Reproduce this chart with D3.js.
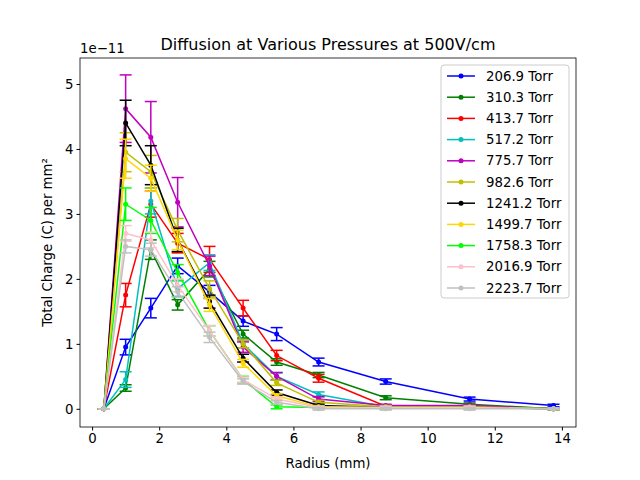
<!DOCTYPE html>
<html><head><meta charset="utf-8">
<script src="https://cdn.jsdelivr.net/npm/d3@7"></script>
<style>body{margin:0;background:#fff}svg{font-family:"DejaVu Sans",sans-serif}</style>
</head><body><svg id="c" width="640" height="480"></svg>
<script>
const radius = [0.35, 1.0, 1.75, 2.55, 3.5, 4.5, 5.5, 6.75, 8.75, 11.25, 13.75];
const labels = ["206.9 Torr","310.3 Torr","413.7 Torr","517.2 Torr","775.7 Torr","982.6 Torr","1241.2 Torr","1499.7 Torr","1758.3 Torr","2016.9 Torr","2223.7 Torr"];
const colors = ["#0000ff","#008000","#ff0000","#00bfbf","#bf00bf","#bfbf00","#000000","#ffd700","#00ff00","#ffc0cb","#c0c0c0"];
const values = [
  [0, 0.95, 1.55, 2.2, 1.8, 1.35, 1.15, 0.72, 0.42, 0.15, 0.05],
  [0, 0.32, 2.45, 1.6, 2.15, 1.15, 0.72, 0.52, 0.17, 0.07, 0.0],
  [0, 1.75, 3.15, 2.55, 2.3, 1.55, 0.82, 0.47, 0.04, 0.04, 0.0],
  [0, 0.45, 3.2, 1.85, 2.25, 1.0, 0.5, 0.22, 0.03, 0.03, 0.0],
  [0, 4.62, 4.18, 3.18, 2.2, 0.95, 0.5, 0.15, 0.05, 0.05, 0.0],
  [0, 3.95, 3.65, 2.75, 1.85, 1.0, 0.4, 0.1, 0.03, 0.03, 0.0],
  [0, 4.4, 3.75, 2.6, 1.65, 0.78, 0.25, 0.05, 0.02, 0.02, 0.0],
  [0, 3.85, 3.55, 2.6, 1.6, 0.7, 0.2, 0.03, 0.02, 0.02, 0.0],
  [0, 3.15, 2.9, 2.1, 1.2, 0.45, 0.03, 0.02, 0.02, 0.02, 0.0],
  [0, 2.7, 2.6, 1.9, 1.2, 0.45, 0.15, 0.02, 0.02, 0.02, 0.0],
  [0, 2.5, 2.45, 1.8, 1.1, 0.42, 0.1, 0.0, 0.0, 0.0, 0.0]
];
const errors = [
  [0, 0.12, 0.15, 0.12, 0.1, 0.08, 0.1, 0.06, 0.04, 0.03, 0.02],
  [0, 0.05, 0.15, 0.08, 0.12, 0.06, 0.05, 0.04, 0.03, 0.02, 0.01],
  [0, 0.18, 0.2, 0.15, 0.2, 0.12, 0.08, 0.06, 0.02, 0.02, 0.01],
  [0, 0.12, 0.2, 0.12, 0.12, 0.06, 0.05, 0.04, 0.02, 0.02, 0.01],
  [0, 0.52, 0.55, 0.38, 0.15, 0.08, 0.06, 0.04, 0.02, 0.02, 0.01],
  [0, 0.3, 0.25, 0.18, 0.12, 0.06, 0.04, 0.03, 0.02, 0.02, 0.01],
  [0, 0.35, 0.3, 0.18, 0.1, 0.06, 0.04, 0.02, 0.02, 0.02, 0.01],
  [0, 0.3, 0.2, 0.15, 0.1, 0.06, 0.03, 0.02, 0.02, 0.02, 0.01],
  [0, 0.25, 0.2, 0.12, 0.08, 0.05, 0.03, 0.02, 0.02, 0.02, 0.01],
  [0, 0.12, 0.12, 0.1, 0.08, 0.04, 0.03, 0.02, 0.02, 0.02, 0.01],
  [0, 0.1, 0.1, 0.08, 0.08, 0.04, 0.03, 0.02, 0.02, 0.02, 0.01]
];
const xTicks = [0, 2, 4, 6, 8, 10, 12, 14];
const yTicks = [0, 1, 2, 3, 4, 5];

const svg = d3.select("#c");
const L = 80, R = 576, T = 58, B = 427;
const x = d3.scaleLinear().domain([-0.36, 14.42]).range([L, R]);
const y = d3.scaleLinear().domain([-0.28, 5.4]).range([B, T]);

const plot = svg.append("g");
values.forEach((vals, i) => {
  const g = plot.append("g");
  const pts = radius.map((r, j) => [r, vals[j], errors[i][j]]);
  pts.forEach(p => {
    const cx = x(p[0]), y1 = y(p[1] - p[2]), y2 = y(p[1] + p[2]);
    g.append("line").attr("x1", cx).attr("x2", cx).attr("y1", y1).attr("y2", y2).attr("stroke", colors[i]).attr("stroke-width", 1.5);
    [y1, y2].forEach(yy => g.append("line").attr("x1", cx - 6).attr("x2", cx + 6).attr("y1", yy).attr("y2", yy).attr("stroke", colors[i]).attr("stroke-width", 1.5));
  });
  g.append("path").datum(pts).attr("fill", "none").attr("stroke", colors[i]).attr("stroke-width", 1.5)
    .attr("d", d3.line().x(d => x(d[0])).y(d => y(d[1])));
  g.selectAll("circle").data(pts).join("circle").attr("cx", d => x(d[0])).attr("cy", d => y(d[1])).attr("r", 2.5).attr("fill", colors[i]);
});

svg.append("rect").attr("x", L).attr("y", T).attr("width", R - L).attr("height", B - T).attr("fill", "none").attr("stroke", "#000").attr("stroke-width", 0.8);

const xa = svg.append("g").attr("transform", `translate(0,${B})`)
  .call(d3.axisBottom(x).tickValues(xTicks).tickFormat(d3.format("d")).tickSize(3.5).tickSizeOuter(0));
const ya = svg.append("g").attr("transform", `translate(${L},0)`)
  .call(d3.axisLeft(y).tickValues(yTicks).tickFormat(d3.format("d")).tickSize(3.5).tickSizeOuter(0));
[xa, ya].forEach(a => { a.select(".domain").remove(); a.selectAll("text").attr("font-size", 13.3).attr("fill", "#000").attr("font-family", "DejaVu Sans"); });

svg.append("text").attr("x", L).attr("y", T - 5).attr("font-size", 13.3).text("1e\u221211");
svg.append("text").attr("x", (L + R) / 2).attr("y", T - 8).attr("text-anchor", "middle").attr("font-size", 16).text("Diffusion at Various Pressures at 500V/cm");
svg.append("text").attr("x", (L + R) / 2).attr("y", 468).attr("text-anchor", "middle").attr("font-size", 13.3).text("Radius (mm)");
svg.append("text").attr("transform", `translate(52,${(T + B) / 2}) rotate(-90)`).attr("text-anchor", "middle").attr("font-size", 13.3).text("Total Charge (C) per mm²");

const lg = svg.append("g").attr("transform", "translate(441,65)");
lg.append("rect").attr("width", 128).attr("height", 233).attr("rx", 3).attr("fill", "#fff").attr("fill-opacity", 0.8).attr("stroke", "#ccc");
labels.forEach((lab, i) => {
  const yy = 11 + i * 21.2;
  lg.append("line").attr("x1", 6).attr("x2", 34).attr("y1", yy).attr("y2", yy).attr("stroke", colors[i]).attr("stroke-width", 1.5);
  lg.append("circle").attr("cx", 20).attr("cy", yy).attr("r", 2.5).attr("fill", colors[i]);
  lg.append("text").attr("x", 45).attr("y", yy + 4.5).attr("font-size", 13.3).text(lab);
});
</script></body></html>
